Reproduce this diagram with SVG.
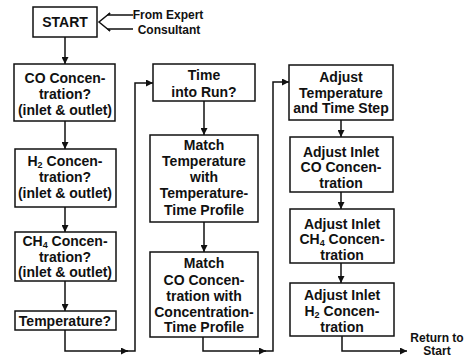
<svg xmlns="http://www.w3.org/2000/svg" width="469" height="358" viewBox="0 0 469 358">
<defs>
<marker id="ah" viewBox="0 0 10 10" refX="10" refY="5" markerWidth="7" markerHeight="7" markerUnits="userSpaceOnUse" orient="auto">
<path d="M0,0 L10,5 L0,10 z" fill="#111"/>
</marker>
<style>
.box{fill:#fff;stroke:#111;stroke-width:1.5}
.t{font-family:"Liberation Sans",Arial,sans-serif;font-weight:bold;font-size:14px;fill:#111;text-anchor:middle}
.s{font-family:"Liberation Sans",Arial,sans-serif;font-weight:bold;font-size:12px;fill:#111;text-anchor:middle}
.c{fill:none;stroke:#111;stroke-width:1.5}
.sub{font-size:9px}
</style>
</defs>
<rect width="469" height="358" fill="#fff"/>

<g id="connectors">
<line class="c" x1="65" y1="37" x2="65" y2="64" marker-end="url(#ah)"/>
<line class="c" x1="65" y1="121" x2="65" y2="149" marker-end="url(#ah)"/>
<line class="c" x1="65" y1="207" x2="65" y2="232" marker-end="url(#ah)"/>
<line class="c" x1="65" y1="281" x2="65" y2="311" marker-end="url(#ah)"/>
<polyline class="c" points="65,330 65,351 128,351" marker-end="url(#ah)"/>
<polyline class="c" points="126,351 135,351 135,83 153,83" marker-end="url(#ah)"/>
<line class="c" x1="204" y1="101" x2="204" y2="135" marker-end="url(#ah)"/>
<line class="c" x1="204" y1="222" x2="204" y2="252" marker-end="url(#ah)"/>
<polyline class="c" points="203,337 203,351 266,351" marker-end="url(#ah)"/>
<polyline class="c" points="264,351 273,351 273,82 289,82" marker-end="url(#ah)"/>
<line class="c" x1="341" y1="120" x2="341" y2="137" marker-end="url(#ah)"/>
<line class="c" x1="341" y1="192" x2="341" y2="209" marker-end="url(#ah)"/>
<line class="c" x1="341" y1="263" x2="341" y2="283" marker-end="url(#ah)"/>
<polyline class="c" points="342,336 342,351 407,351" marker-end="url(#ah)"/>
<g id="expert-arrow">
<polyline class="c" points="110,13 99,22 110,31"/>
<polyline class="c" points="110,13 108,15 133,15"/>
<polyline class="c" points="110,31 108,29 133,29"/>
</g>
</g>

<g id="start">
<rect class="box" x="33" y="7" width="64" height="30"/>
<text class="t" x="65" y="27">START</text>
</g>
<g id="expert-label">
<text class="s" x="168" y="19">From Expert</text>
<text class="s" x="169" y="34">Consultant</text>
</g>

<g id="co">
<rect class="box" x="14" y="64" width="101" height="57"/>
<text class="t" x="65" y="83">CO Concen-</text>
<text class="t" x="65" y="99">tration?</text>
<text class="t" x="65" y="115">(inlet &amp; outlet)</text>
</g>
<g id="h2">
<rect class="box" x="15" y="149" width="101" height="58"/>
<text class="t" x="65" y="166">H<tspan class="sub" dy="2">2</tspan><tspan dy="-2"> Concen-</tspan></text>
<text class="t" x="65" y="182">tration?</text>
<text class="t" x="65" y="198">(inlet &amp; outlet)</text>
</g>
<g id="ch4">
<rect class="box" x="15" y="232" width="101" height="49"/>
<text class="t" x="65" y="246">CH<tspan class="sub" dy="2">4</tspan><tspan dy="-2"> Concen-</tspan></text>
<text class="t" x="65" y="262">tration?</text>
<text class="t" x="65" y="277">(inlet &amp; outlet)</text>
</g>
<g id="temp">
<rect class="box" x="15" y="311" width="101" height="19"/>
<text class="t" x="65" y="326">Temperature?</text>
</g>

<g id="time">
<rect class="box" x="153" y="64" width="102" height="37"/>
<text class="t" x="204" y="80">Time</text>
<text class="t" x="204" y="97">into Run?</text>
</g>
<g id="match-temp">
<rect class="box" x="150" y="135" width="108" height="87"/>
<text class="t" x="204" y="150">Match</text>
<text class="t" x="204" y="166">Temperature</text>
<text class="t" x="204" y="182">with</text>
<text class="t" x="204" y="198">Temperature-</text>
<text class="t" x="204" y="215">Time Profile</text>
</g>
<g id="match-co">
<rect class="box" x="150" y="252" width="108" height="85"/>
<text class="t" x="204" y="268">Match</text>
<text class="t" x="204" y="285">CO Concen-</text>
<text class="t" x="204" y="301">tration with</text>
<text class="t" x="204" y="317">Concentration-</text>
<text class="t" x="204" y="332">Time Profile</text>
</g>

<g id="adj-temp">
<rect class="box" x="289" y="65" width="104" height="55"/>
<text class="t" x="341" y="82">Adjust</text>
<text class="t" x="341" y="98">Temperature</text>
<text class="t" x="341" y="113">and Time Step</text>
</g>
<g id="adj-co">
<rect class="box" x="290" y="137" width="103" height="55"/>
<text class="t" x="341" y="157">Adjust Inlet</text>
<text class="t" x="341" y="172">CO Concen-</text>
<text class="t" x="341" y="188">tration</text>
</g>
<g id="adj-ch4">
<rect class="box" x="290" y="209" width="104" height="54"/>
<text class="t" x="342" y="229">Adjust Inlet</text>
<text class="t" x="342" y="244">CH<tspan class="sub" dy="2">4</tspan><tspan dy="-2"> Concen-</tspan></text>
<text class="t" x="342" y="260">tration</text>
</g>
<g id="adj-h2">
<rect class="box" x="290" y="283" width="104" height="53"/>
<text class="t" x="342" y="300">Adjust Inlet</text>
<text class="t" x="342" y="316">H<tspan class="sub" dy="2">2</tspan><tspan dy="-2"> Concen-</tspan></text>
<text class="t" x="342" y="332">tration</text>
</g>
<g id="return-label">
<text class="s" x="437" y="342">Return to</text>
<text class="s" x="437" y="355">Start</text>
</g>
</svg>
